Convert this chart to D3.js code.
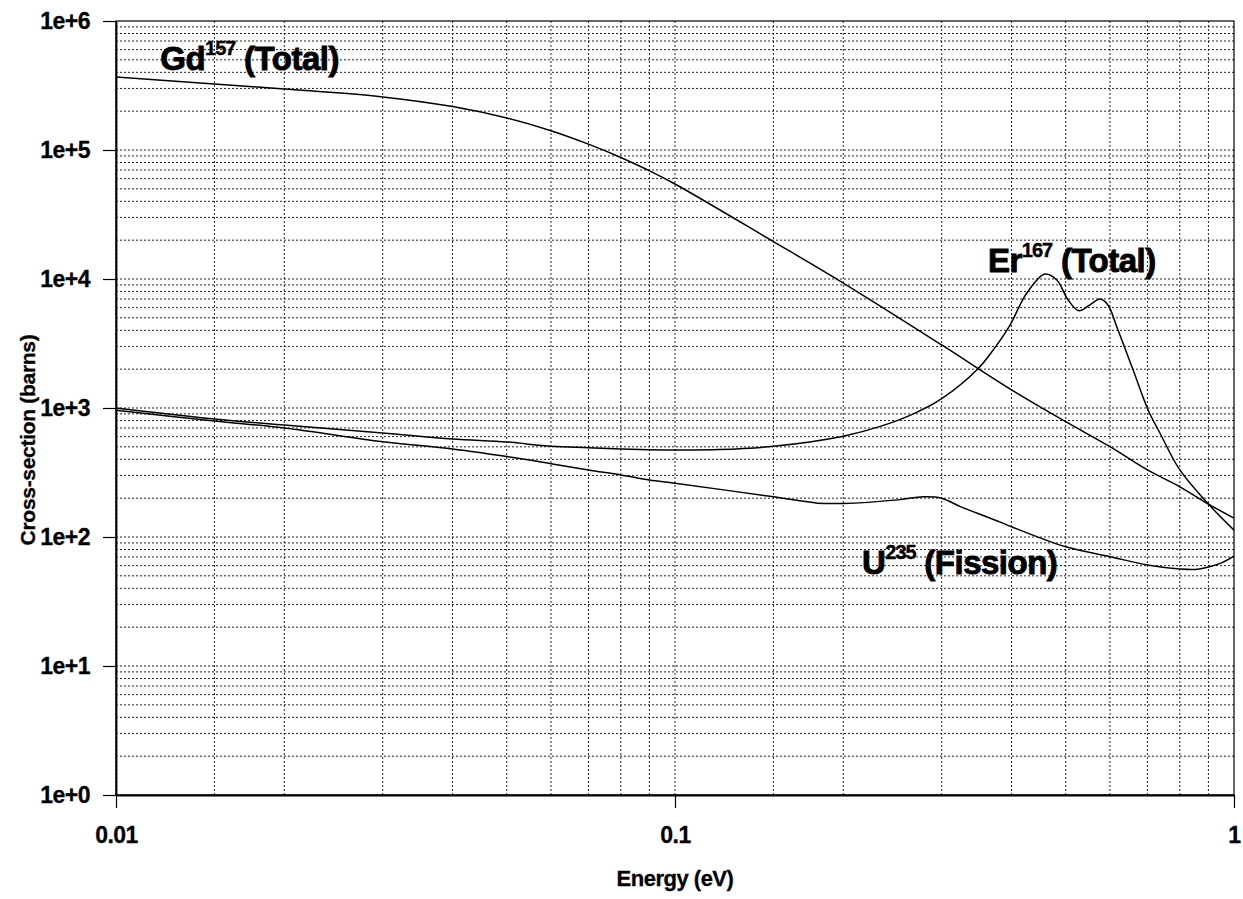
<!DOCTYPE html>
<html>
<head>
<meta charset="utf-8">
<script src="https://cdn.jsdelivr.net/npm/d3@7"></script>
<style>
  body { margin: 0; background: #fff; }
  text { font-family: "Liberation Sans", Arial, Helvetica, sans-serif; font-weight: bold; fill: #000; }
  .grid line { stroke: #222; stroke-width: 1; stroke-dasharray: 2,2; }
  .curve { fill: none; stroke: #000; stroke-width: 1.5; }
</style>
</head>
<body>
<div id="chart"></div>
<script>
let width = 1243;
let height = 899;

// Gd-157 total cross-section (energy in eV, barns)
var gdEnergy = [0.01, 0.015, 0.02, 0.03, 0.04, 0.05, 0.06, 0.07, 0.08, 0.09, 0.1, 0.15, 0.2, 0.3, 0.4, 0.5, 0.6, 0.7, 0.8, 0.9, 1.0];
var gdValues = [368000, 325000, 297000, 258000, 217000, 177000, 141000, 111000, 87500, 69000, 54500, 19500, 9300, 3080, 1380, 783, 501, 331, 245, 180, 140];

// Er-167 total cross-section
var erEnergy = [0.01, 0.015, 0.02, 0.03, 0.04, 0.05, 0.06, 0.07, 0.08, 0.09, 0.1, 0.12, 0.15, 0.2, 0.233, 0.267, 0.3, 0.348, 0.371, 0.396, 0.426, 0.459, 0.482, 0.505, 0.528, 0.552, 0.576, 0.595, 0.617, 0.659, 0.702, 0.737, 0.8, 0.9, 1.0];
var erValues = [1000, 822, 738, 640, 575, 545, 505, 492, 481, 474, 472, 476, 505, 605, 720, 900, 1180, 2005, 2820, 4270, 7790, 10930, 9820, 6870, 5680, 6290, 6995, 6290, 4270, 2005, 965, 640, 331, 180, 113];

// U-235 fission cross-section
var uEnergy = [0.01, 0.015, 0.02, 0.03, 0.04, 0.05, 0.06, 0.07, 0.08, 0.09, 0.1, 0.15, 0.18, 0.2, 0.25, 0.278, 0.3, 0.324, 0.381, 0.4, 0.5, 0.6, 0.7, 0.8, 0.85, 0.9, 0.95, 1.0];
var uValues = [960, 793, 700, 548, 481, 420, 370, 331, 303, 277, 261, 205, 183, 182, 194, 205, 200, 172, 131, 120, 84, 70.4, 60.7, 56.5, 56, 58.5, 63, 71];

// Axis ticks
var xTicks = [0.01, 0.1, 1];
var xTickLabels = ["0.01", "0.1", "1"];
var yTicks = [1, 10, 100, 1000, 10000, 100000, 1000000];
var yTickLabels = ["1e+0", "1e+1", "1e+2", "1e+3", "1e+4", "1e+5", "1e+6"];

// Curve labels: main text, superscript, suffix, anchor energy/value
var labelMain = ["Gd", "Er", "U"];
var labelSup = ["157", "167", "235"];
var labelRest = [" (Total)", " (Total)", " (Fission)"];
var labelAtE = [0.012, 0.363, 0.216];
var labelAtV = [420000, 11300, 52];

let margin = { left: 116, right: 9, top: 21, bottom: 104 };

let x = d3.scaleLog().domain([0.01, 1]).range([margin.left, width - margin.right]);
let y = d3.scaleLog().domain([1, 1e6]).range([height - margin.bottom, margin.top]);

let svg = d3.select("#chart").append("svg")
    .attr("width", width)
    .attr("height", height);

// grid values: 1, 1.5, 2..9 per decade on x; 1..9 per decade on y
let xGrid = [];
[0.01, 0.1].forEach(d => {
    [1, 1.5, 2, 3, 4, 5, 6, 7, 8, 9].forEach(m => xGrid.push(d * m));
});
let yGrid = [];
[1, 10, 100, 1000, 10000, 100000].forEach(d => {
    [1, 2, 3, 4, 5, 6, 7, 8, 9].forEach(m => yGrid.push(d * m));
});

let grid = svg.append("g").attr("class", "grid");
grid.selectAll(".gx")
    .data(xGrid)
  .enter().append("line")
    .attr("class", "gx")
    .attr("x1", d => x(d)).attr("x2", d => x(d))
    .attr("y1", y(1)).attr("y2", y(1e6));
grid.selectAll(".gy")
    .data(yGrid)
  .enter().append("line")
    .attr("class", "gy")
    .attr("x1", x(0.01)).attr("x2", x(1))
    .attr("y1", d => y(d)).attr("y2", d => y(d));

// frame
svg.append("rect")
    .attr("x", x(0.01))
    .attr("y", y(1e6))
    .attr("width", x(1) - x(0.01))
    .attr("height", y(1) - y(1e6))
    .attr("fill", "none")
    .attr("stroke", "#000")
    .attr("stroke-width", 1.2);

// axes
let xAxis = svg.append("g")
    .attr("transform", "translate(0," + y(1) + ")")
    .call(d3.axisBottom(x)
        .tickValues(xTicks)
        .tickFormat((d, i) => xTickLabels[i])
        .tickSize(13)
        .tickSizeOuter(0)
        .tickPadding(19));

let yAxis = svg.append("g")
    .attr("transform", "translate(" + x(0.01) + ",0)")
    .call(d3.axisLeft(y)
        .tickValues(yTicks)
        .tickFormat((d, i) => yTickLabels[i])
        .tickSize(13)
        .tickSizeOuter(0)
        .tickPadding(13));

[xAxis, yAxis].forEach(a => {
    a.attr("font-family", null).attr("font-size", null);
    a.select(".domain").attr("stroke-width", 1.8);
    a.selectAll(".tick line").attr("stroke-width", 1.2);
    a.selectAll("text")
        .style("font-size", "23px")
        .style("stroke", "#000")
        .style("stroke-width", "0.3px")
        .style("letter-spacing", "-0.5px");
});

// axis titles
svg.append("text")
    .attr("x", (x(0.01) + x(1)) / 2)
    .attr("y", 886)
    .attr("text-anchor", "middle")
    .style("font-size", "22px")
    .style("stroke", "#000")
    .style("stroke-width", "0.3px")
    .style("letter-spacing", "-0.5px")
    .text("Energy (eV)");

svg.append("text")
    .attr("transform", "translate(35,440) rotate(-90)")
    .attr("text-anchor", "middle")
    .style("font-size", "21px")
    .style("stroke", "#000")
    .style("stroke-width", "0.3px")
    .style("letter-spacing", "-0.3px")
    .text("Cross-section (barns)");

// curves
let line = d3.line()
    .x(d => x(d[0]))
    .y(d => y(d[1]))
    .curve(d3.curveCatmullRom.alpha(0.5));

let series = [d3.zip(gdEnergy, gdValues), d3.zip(erEnergy, erValues), d3.zip(uEnergy, uValues)];

svg.append("g").selectAll("path")
    .data(series)
  .enter().append("path")
    .attr("class", "curve")
    .attr("d", line);

// curve labels
labelMain.forEach((m, i) => {
    let t = svg.append("text")
        .attr("x", x(labelAtE[i]))
        .attr("y", y(labelAtV[i]))
        .style("font-size", "33px")
        .style("stroke", "#000")
        .style("stroke-width", "0.9px")
        .style("letter-spacing", "-0.5px");
    t.append("tspan").text(m);
    t.append("tspan")
        .attr("dy", -15)
        .style("font-size", "20px")
        .style("stroke-width", "0.4px")
        .style("letter-spacing", "-1px")
        .text(labelSup[i]);
    t.append("tspan")
        .attr("dy", 15)
        .text(labelRest[i]);
});
</script>
</body>
</html>
